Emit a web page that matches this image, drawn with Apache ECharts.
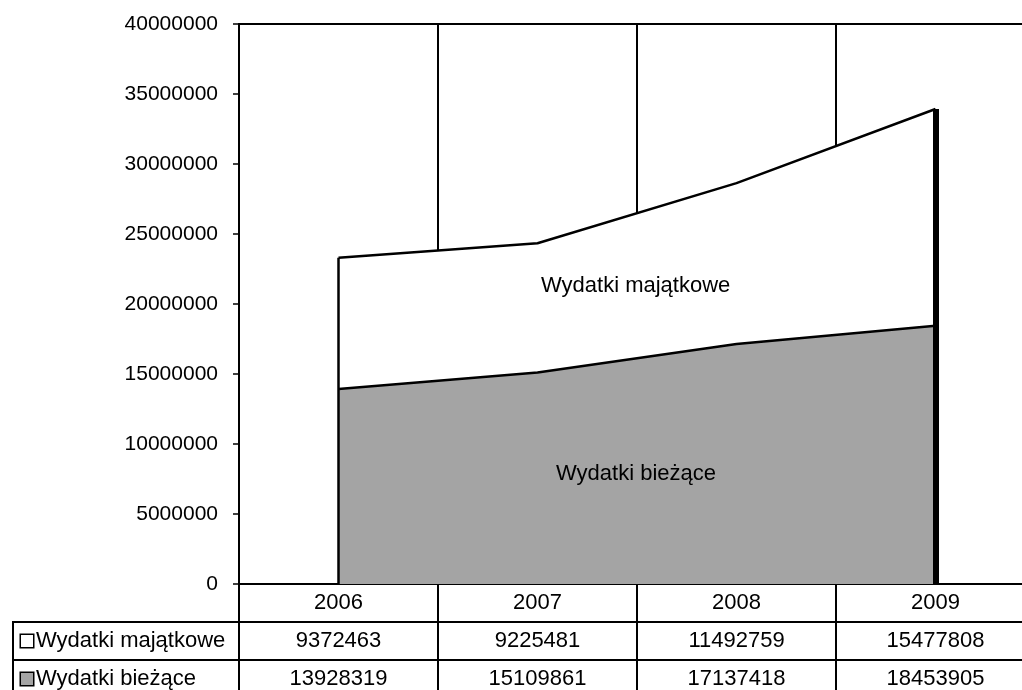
<!DOCTYPE html>
<html>
<head>
<meta charset="utf-8">
<script src="https://cdn.jsdelivr.net/npm/echarts@6/dist/echarts.min.js"></script>
<style>
html,body{margin:0;padding:0;background:#fff;}
#chart{width:1022px;height:690px;}
</style>
</head>
<body>
<div id="chart"></div>
<script>
const years = ['2006', '2007', '2008', '2009'];
const majatkowe = [9372463, 9225481, 11492759, 15477808];
const biezace = [13928319, 15109861, 17137418, 18453905];
const yTicks = { min: 0, max: 40000000, interval: 5000000 };
const seriesNames = ['Wydatki majątkowe', 'Wydatki bieżące'];

const FONT = '"Liberation Sans", Arial, sans-serif';
const FS = 22;
const FS_Y = 21;
const totals = years.map((_, i) => majatkowe[i] + biezace[i]);
const GRAY = '#a4a4a4';
const CELL_W = 226;

const measureCtx = document.createElement('canvas').getContext('2d');
function textWidth(t) {
  measureCtx.font = FS + 'px ' + FONT;
  return measureCtx.measureText(t).width;
}

function rowName(name, fill) {
  const used = 8 + 12 + 3 + textWidth(name);
  const padRight = Math.max(0, CELL_W - used);
  return {
    name: '{k|}{t|' + name + '}',
    nameLocation: 'start',
    nameGap: 0,
    nameTextStyle: {
      align: 'right',
      verticalAlign: 'top',
      padding: [0, padRight, 0, 8],
      borderColor: '#000',
      borderWidth: 2,
      rich: {
        k: { width: 12, height: 12, backgroundColor: fill, borderColor: '#000', borderWidth: 1.5, lineHeight: 38 },
        t: { fontFamily: FONT, fontSize: FS, color: '#000', lineHeight: 38, height: 38, padding: [0, 0, 0, 3] }
      }
    }
  };
}

const tableAxis = (data, offset, name, fill) => Object.assign({
  type: 'category',
  gridIndex: 0,
  position: 'bottom',
  offset: offset,
  data: data.map(String),
  boundaryGap: true,
  axisLine: { show: true, lineStyle: { color: '#000', width: 2 } },
  axisTick: { show: true, length: 38, interval: 0, lineStyle: { color: '#000', width: 2 } },
  axisLabel: { interval: 0, margin: 8, fontFamily: FONT, fontSize: FS, color: '#000' },
  splitLine: { show: false }
}, rowName(name, fill));

const chart = echarts.init(document.getElementById('chart'), null, { renderer: 'canvas' });
chart.setOption({
  animation: false,
  backgroundColor: '#fff',
  grid: { left: 239, top: 24, width: 796, bottom: 106, containLabel: false, outerBoundsMode: 'none' },
  xAxis: [
    {
      type: 'category',
      data: years,
      position: 'bottom',
      boundaryGap: true,
      axisLine: { show: true, lineStyle: { color: '#000', width: 2 } },
      axisTick: { show: true, length: 38, interval: 0, lineStyle: { color: '#000', width: 2 } },
      axisLabel: { interval: 0, margin: 8, fontFamily: FONT, fontSize: FS, color: '#000' },
      splitLine: { show: true, interval: 0, lineStyle: { color: '#000', width: 2 } }
    },
    tableAxis(majatkowe, 38, seriesNames[0], '#fff'),
    tableAxis(biezace, 76, seriesNames[1], GRAY),
    {
      type: 'category',
      data: years,
      position: 'top',
      boundaryGap: true,
      axisLine: { show: true, lineStyle: { color: '#000', width: 2 } },
      axisTick: { show: false },
      axisLabel: { show: false },
      splitLine: { show: false }
    }
  ],
  yAxis: {
    type: 'value',
    min: yTicks.min,
    max: yTicks.max,
    interval: yTicks.interval,
    axisLine: { show: true, lineStyle: { color: '#000', width: 2 } },
    axisTick: { show: true, length: 6, lineStyle: { color: '#000', width: 1.5 } },
    axisLabel: { margin: 21, fontFamily: FONT, fontSize: FS_Y, color: '#000', formatter: v => String(v) },
    splitLine: { show: false }
  },
  series: [
    {
      name: seriesNames[1],
      type: 'line',
      stack: 'total',
      data: biezace,
      symbol: 'none',
      lineStyle: { color: '#000', width: 2.5 },
      areaStyle: { color: GRAY, opacity: 1 },
      z: 2
    },
    {
      name: seriesNames[0],
      type: 'line',
      stack: 'total',
      data: majatkowe,
      symbol: 'none',
      lineStyle: { color: '#000', width: 2.5 },
      areaStyle: { color: '#fff', opacity: 1 },
      z: 2,
      markLine: {
        symbol: 'none',
        silent: true,
        label: { show: false },
        data: [
          [
            { coord: [years[0], 0], lineStyle: { color: '#000', width: 2.5, type: 'solid' } },
            { coord: [years[0], totals[0]] }
          ],
          [
            { coord: [years[3], 0], lineStyle: { color: '#000', width: 6, type: 'solid' } },
            { coord: [years[3], totals[3]] }
          ]
        ]
      }
    }
  ],
  graphic: [
    { type: 'text', left: 541, top: 275, z: 10,
      style: { text: seriesNames[0], fontFamily: FONT, fontSize: FS, fill: '#000' } },
    { type: 'text', left: 556, top: 463, z: 10,
      style: { text: seriesNames[1], fontFamily: FONT, fontSize: FS, fill: '#000' } }
  ]
});
</script>
</body>
</html>
